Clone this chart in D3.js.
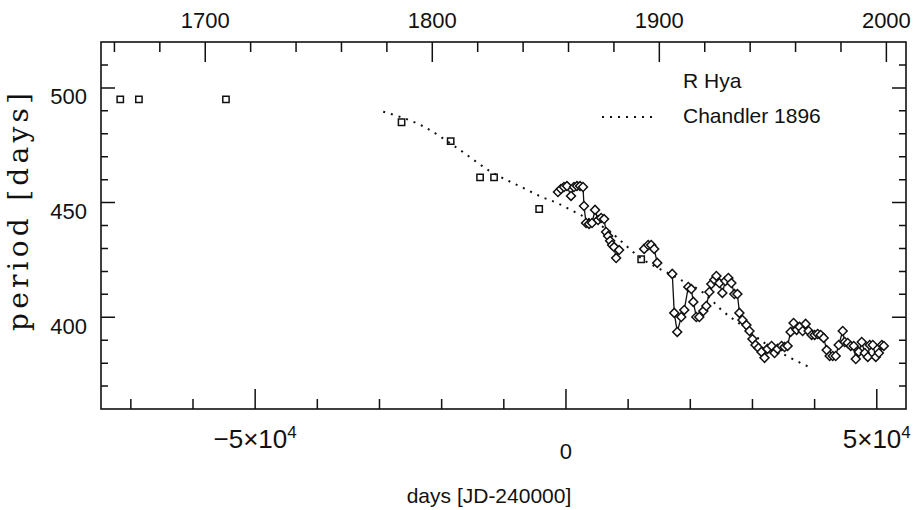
<!DOCTYPE html>
<meta charset="utf-8">
<style>
body{ margin:0; background:#fff; }
svg{ display:block; font-family: "Liberation Sans", Arial, Helvetica, sans-serif; }
text{ fill:#111; }
</style>
<div id="graph"></div>
<script src="https://cdn.jsdelivr.net/npm/d3@7"></script>
<script>

// open squares: early period estimates
var squareDays    = [-71700, -68700, -54700, -26450, -18550, -13820, -11570, -4310, 12100]
var squarePeriods = [495.0, 495.0, 495.0, 485.0, 476.8, 461.0, 461.0, 447.2, 425.3]

// Chandler 1896 (dotted)
var chandlerDays    = [-29400, -22860, -17470, -12100, -6730, -4030, -1340, 1340, 6730, 12100, 17470, 22860, 25000, 28230, 31990, 35760, 39520]
var chandlerPeriods = [489.6, 483.1, 473.7, 463.5, 456.2, 452.6, 449.7, 446.0, 438.0, 425.7, 417.7, 409.0, 403.2, 396.6, 388.7, 382.8, 377.8]

// R Hya, diamonds joined by a line (three runs)
var rhyaDays = [
  -1290, -810, -320, 160, 810, 1290, 1770, 2260, 2740, 2900, 3230, 3710, 4190, 4680, 5160, 5650, 6130, 6450, 6780, 7100, 7420, 7740, 8070, 8550,
  12580, 13230, 13710, 14190, 14680,
  17100, 17420, 17900, 18550, 19030, 19680, 20160, 20490, 20970, 21450, 22100, 22580, 23070, 23390, 23870, 24200, 24680, 25160,
  25650, 26130, 26610, 27100, 27580, 27900, 28390, 29030, 29520, 30000, 30490, 30970, 31450, 31940, 32420, 33070, 33550, 34030,
  34680, 35160, 35650, 36130, 36610, 37100, 37580, 38070, 38550, 39030, 39520, 40000, 40490, 40970, 41450, 41940, 42420, 42910,
  43390, 43870, 44520, 44840, 45320, 45810, 46290, 46620, 47100, 47580, 48070, 48550, 48870, 49360, 49840, 50330, 50810, 51130]
var rhyaPeriods = [
  454.6, 455.9, 456.8, 457.2, 452.9, 456.8, 457.2, 457.2, 456.8, 448.5, 441.1, 440.7, 441.1, 446.8, 442.4, 443.3, 442.8, 437.2, 435.4, 433.3, 431.5, 430.6, 425.8, 429.3,
  429.8, 431.5, 431.5, 429.8, 423.7,
  418.9, 401.9, 393.6, 400.1, 403.2, 413.2, 412.3, 406.7, 400.1, 400.1, 402.7, 404.9, 411.0, 414.5, 416.3, 418.0, 414.9, 410.6,
  415.8, 417.1, 414.9, 410.1, 410.1, 401.9, 398.8, 396.6, 394.0, 390.5, 387.9, 386.6, 384.9, 382.3, 386.2, 387.5, 384.4, 386.2,
  387.5, 387.0, 387.5, 393.6, 397.5, 394.5, 395.8, 394.0, 397.1, 394.0, 392.3, 392.3, 392.7, 392.3, 391.0, 385.7, 383.1, 383.1,
  383.1, 387.9, 394.0, 389.2, 388.8, 387.5, 387.5, 381.8, 384.9, 389.2, 384.4, 382.7, 387.9, 387.9, 382.7, 384.4, 387.9, 387.5]
var rhyaRunStarts = [0, 24, 29]

var yTicks = [400, 450, 500]
var yearTicks = [1700, 1800, 1900, 2000]
var dayTicks = [-50000, 0, 50000]

var JD0_YEAR = 1858.88   // JD 2400000

var width = 922, height = 510
var plotL = 101, plotR = 906, plotT = 42, plotB = 409

var svg = d3.select('#graph').append('svg')
    .attr('width', width).attr('height', height)

var x = d3.scaleLinear().domain([-74800, 54700]).range([plotL, plotR])
var y = d3.scaleLinear().domain([360, 520]).range([plotB, plotT])
var xYear = d3.scaleLinear()
    .domain(x.domain().map(function(d){ return JD0_YEAR + d/365.25 }))
    .range([plotL, plotR])

// tick marks as one path, all pointing into the frame
function vtickPath(vals, scale, y0, len){
  return vals.map(function(d){
    return 'M' + scale(d) + ',' + y0 + 'V' + (y0 + len) }).join('')
}
function htickPath(vals, len){
  return vals.map(function(d){
    return 'M' + plotL + ',' + y(d) + 'h' + len + 'M' + plotR + ',' + y(d) + 'h' + (-len) }).join('')
}

var minorDays = d3.range(-70000, 54001, 10000).filter(function(d){ return d % 50000 })
var minorYears = d3.range(1660, 2001, 20).filter(function(d){ return d % 100 })
var minorY = d3.range(370, 520, 10).filter(function(d){ return d % 50 })

var tickD = vtickPath(dayTicks, x, plotB, -20) + vtickPath(minorDays, x, plotB, -10) +
    vtickPath(yearTicks, xYear, plotT, 20) + vtickPath(minorYears, xYear, plotT, 10) +
    htickPath(yTicks, 14) + htickPath(minorY, 7)

svg.append('path')
    .attr('d', tickD)
    .attr('fill', 'none').attr('stroke', '#111').attr('stroke-width', 1.5)

svg.append('rect')
    .attr('x', plotL).attr('y', plotT)
    .attr('width', plotR - plotL).attr('height', plotB - plotT)
    .attr('fill', 'none').attr('stroke', '#111').attr('stroke-width', 1.6)

// tick labels
svg.selectAll('.ylab').data(yTicks).enter().append('text')
    .attr('x', 87).attr('y', function(d){ return y(d) + 16.5 })
    .attr('text-anchor', 'end').style('font-size', '22px')
    .text(function(d){ return d })

svg.selectAll('.yrlab').data(yearTicks).enter().append('text')
    .attr('x', function(d){ return xYear(d) }).attr('y', 28)
    .attr('text-anchor', 'middle').style('font-size', '22px')
    .text(function(d){ return d })

var dayLab = svg.selectAll('.dlab').data(dayTicks).enter().append('text')
    .attr('x', function(d){ return x(d) })
    .attr('y', function(d){ return d === 0 ? 459 : 448 })
    .attr('text-anchor', 'middle').style('font-size', '26px')
dayLab.each(function(d){
  var t = d3.select(this)
  if (d === 0){ t.style('font-size', '22px').text('0'); return }
  t.append('tspan').text((d < 0 ? '\u2212' : '') + '5\u00d710')
  t.append('tspan').attr('dy', -10).style('font-size', '17px').text('4')
})

svg.append('text')
    .attr('x', 489).attr('y', 503)
    .attr('text-anchor', 'middle').style('font-size', '21px')
    .text('days [JD-240000]')

svg.append('text')
    .attr('transform', 'translate(28,212) rotate(-90)')
    .attr('text-anchor', 'middle')
    .attr('textLength', 238).attr('lengthAdjust', 'spacing')
    .style('font-family', '"DejaVu Serif", "Liberation Serif", serif')
    .style('font-size', '28px')
    .text('period [days]')

// Chandler curve
var line = d3.line()
    .x(function(i){ return x(chandlerDays[i]) })
    .y(function(i){ return y(chandlerPeriods[i]) })
    .curve(d3.curveMonotoneX)
svg.append('path')
    .attr('d', line(d3.range(chandlerDays.length)))
    .attr('fill', 'none').attr('stroke', '#111')
    .attr('stroke-width', 2).attr('stroke-dasharray', '2,6')

// R Hya runs
var rline = d3.line()
    .x(function(i){ return x(rhyaDays[i]) })
    .y(function(i){ return y(rhyaPeriods[i]) })
rhyaRunStarts.forEach(function(s, k){
  var e = k + 1 < rhyaRunStarts.length ? rhyaRunStarts[k + 1] : rhyaDays.length
  svg.append('path')
      .attr('d', rline(d3.range(s, e)))
      .attr('fill', 'none').attr('stroke', '#111').attr('stroke-width', 1.3)
})

var diamond = d3.symbol(d3.symbolSquare).size(40)
svg.selectAll('.dia').data(d3.range(rhyaDays.length)).enter().append('path')
    .attr('d', diamond)
    .attr('transform', function(i){
      return 'translate(' + x(rhyaDays[i]) + ',' + y(rhyaPeriods[i]) + ') rotate(45)' })
    .attr('fill', '#fff').attr('stroke', '#111').attr('stroke-width', 1.5)

var square = d3.symbol(d3.symbolSquare).size(40)
svg.selectAll('.sq').data(d3.range(squareDays.length)).enter().append('path')
    .attr('d', square)
    .attr('transform', function(i){
      return 'translate(' + x(squareDays[i]) + ',' + y(squarePeriods[i]) + ')' })
    .attr('fill', 'none').attr('stroke', '#111').attr('stroke-width', 1.5)

// legend
svg.append('text').attr('x', 683).attr('y', 88)
    .style('font-size', '21px').text('R Hya')
svg.append('text').attr('x', 683).attr('y', 123)
    .style('font-size', '21px').text('Chandler 1896')
svg.append('line')
    .attr('x1', 602).attr('x2', 652).attr('y1', 117).attr('y2', 117)
    .attr('stroke', '#111').attr('stroke-width', 2).attr('stroke-dasharray', '2,6')

</script>
